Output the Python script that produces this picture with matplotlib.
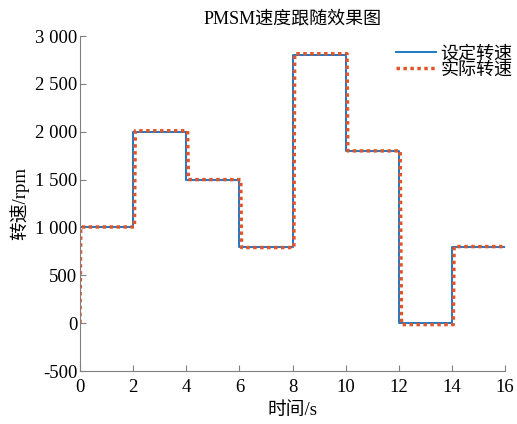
import matplotlib
matplotlib.use("Agg")
import matplotlib.pyplot as plt
from matplotlib.ticker import FuncFormatter

plt.rcParams['font.family'] = ['Liberation Serif', 'Noto Sans CJK SC']

# Setpoint speed (step profile)
set_t = [0, 2, 2, 4, 4, 6, 6, 8, 8, 10, 10, 12, 12, 14, 14, 16]
set_v = [1000, 1000, 2000, 2000, 1500, 1500, 800, 800, 2800, 2800, 1800, 1800, 0, 0, 800, 800]

# Actual speed (slight lag)
act_t = [0, 0.03, 2.05, 2.08, 4.05, 4.08, 6.05, 6.08, 8.05, 8.08, 10.05, 10.08, 12.05, 12.1, 14.05, 14.08, 16]
act_v = [0, 1005, 1005, 2010, 2010, 1500, 1500, 790, 790, 2815, 2815, 1800, 1800, -15, -15, 800, 800]

title = 'PMSM速度跟随效果图'
xlabel = '时间/s'
ylabel = '转速/rpm'
labels = ['设定转速', '实际转速']
xticks = [0, 2, 4, 6, 8, 10, 12, 14, 16]
yticks = [-500, 0, 500, 1000, 1500, 2000, 2500, 3000]

fig = plt.figure(figsize=(5.17, 4.24), dpi=100)
ax = fig.add_axes([0.1547, 0.125, 0.977 - 0.1547, 0.915 - 0.125])

l1, = ax.plot(set_t, set_v, color='#1f77c4', lw=1.4, label=labels[0])
l2, = ax.plot(act_t, act_v, color='#e0542a', lw=2.5, ls=(0, (1, 1)), label=labels[1])

ax.set_xlim(0, 16)
ax.set_ylim(-500, 3000)
ax.set_xticks(xticks)
ax.set_yticks(yticks)
ax.yaxis.set_major_formatter(FuncFormatter(lambda v, p: f'{int(v):,}'.replace(',', ' ')))
for s in ['top', 'right']:
    ax.spines[s].set_visible(False)
for s in ['left', 'bottom']:
    ax.spines[s].set_color('#808080')
ax.tick_params(direction='in', length=4, color='#808080', labelsize=13.5, pad=2)
ax.tick_params(axis='x', pad=6)
ax.set_title(title, fontsize=13, pad=9)
ax.set_xlabel(xlabel, fontsize=13.5, labelpad=4)
ax.set_ylabel(ylabel, fontsize=13.5, labelpad=4)

fig.legend(handles=[l1, l2], loc='upper left', bbox_to_anchor=(0.752, 0.91),
           frameon=False, fontsize=13, handlelength=2.2, handletextpad=0.25,
           labelspacing=-0.05, borderaxespad=0)

fig.savefig('out.png', dpi=100)
